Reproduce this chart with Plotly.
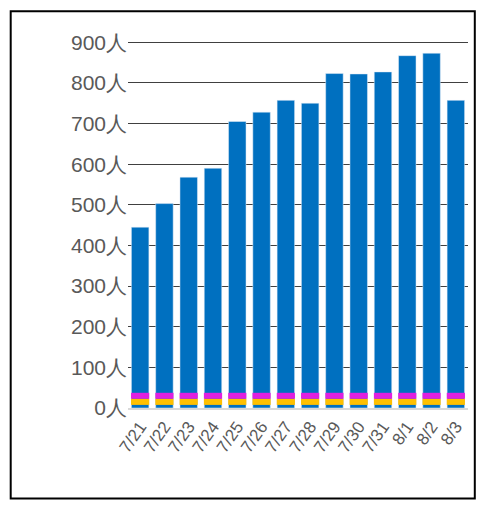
import plotly.graph_objects as go

dates = ["7/21", "7/22", "7/23", "7/24", "7/25", "7/26", "7/27", "7/28",
         "7/29", "7/30", "7/31", "8/1", "8/2", "8/3"]
total = [445, 503, 568, 590, 705, 728, 757, 750, 823, 822, 827, 867, 873, 757]
severe = [30] * 14
mild = [15] * 14
tick_vals = [0, 100, 200, 300, 400, 500, 600, 700, 800, 900]
tick_text = [f"{v}人" for v in tick_vals]

fig = go.Figure()
fig.add_bar(x=dates, y=total, marker_color="#0070C0", width=0.72)
for vals, col in [(severe, "#E020E0"), (mild, "#FFC000")]:
    fig.add_scatter(x=dates, y=vals, mode="markers",
                    marker=dict(symbol="line-ew-open", size=13, color=col,
                                line=dict(color=col, width=6)))

fig.add_shape(type="rect", xref="paper", yref="paper", x0=-0.345, y0=-0.245,
              x1=1.02, y1=1.075, line=dict(color="black", width=2))

fig.update_layout(
    width=470, height=494, showlegend=False,
    margin=dict(l=120, r=10, t=31, b=94),
    plot_bgcolor="white", paper_bgcolor="white",
    font=dict(family="Liberation Sans", color="#595959"),
    bargap=0.28,
)
fig.update_xaxes(range=[-0.5, 13.5], tickangle=-55, tickfont=dict(size=17),
                 showline=True, linecolor="#D9D9D9", linewidth=2)
fig.update_yaxes(range=[0, 908], tickvals=tick_vals, ticktext=tick_text,
                 tickfont=dict(size=21), gridcolor="#404040", gridwidth=1,
                 zeroline=False)

fig.write_html("out.html")
